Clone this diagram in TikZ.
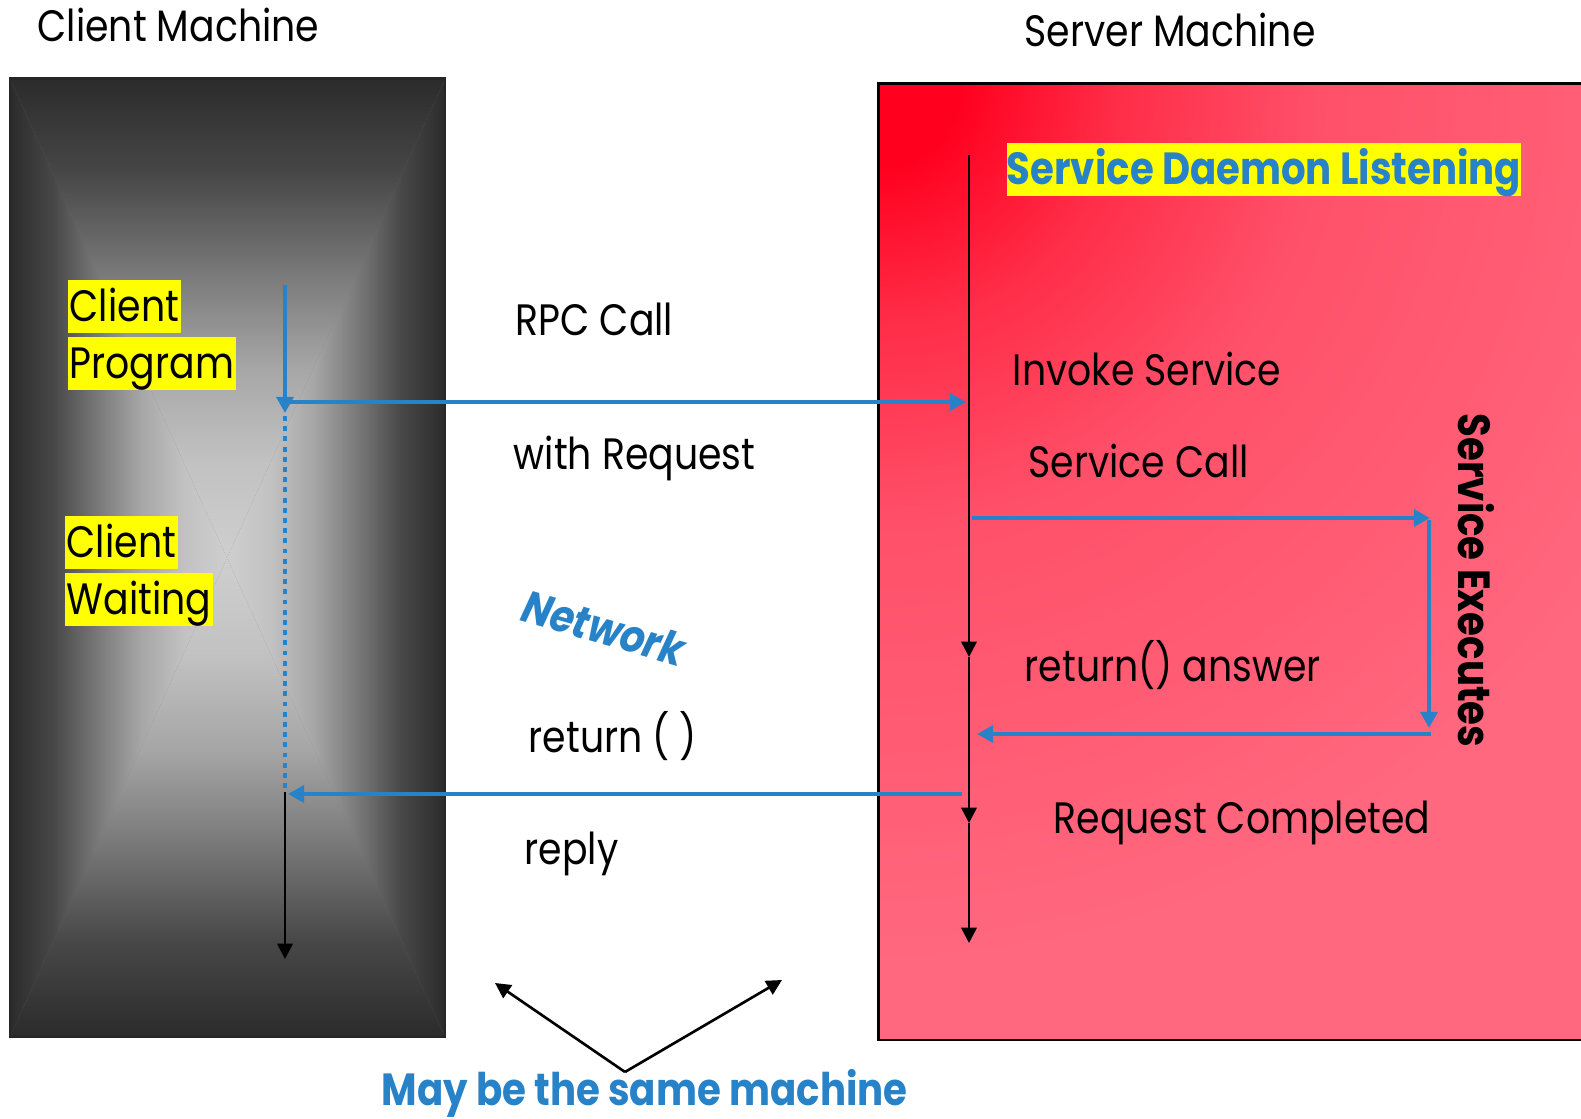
\documentclass[tikz,border=0pt]{standalone}
\usepackage{fontspec}
\setmainfont{Poppins}[FakeStretch=0.86]
\usetikzlibrary{arrows.meta, positioning, calc}

\definecolor{rpcblue}{RGB}{40,130,200}
\definecolor{hiyellow}{RGB}{255,255,0}
\definecolor{srvred}{RGB}{255,0,30}
\definecolor{srvmid}{RGB}{255,45,72}
\definecolor{srvlight}{RGB}{255,80,105}
\definecolor{srvpink}{RGB}{255,104,127}

% client box: dark rim to light middle, one quarter at a time
\pgfdeclarehorizontalshading{rimglow}{100bp}{%
  color(0bp)=(black!83); color(25bp)=(black!83); color(35bp)=(black!72);
  color(45bp)=(black!53); color(55bp)=(black!35); color(65bp)=(black!24);
  color(75bp)=(black!19); color(100bp)=(black!19)}
% red corner of the server box fading to pink
\pgfdeclareradialshading{srvglow}{\pgfpoint{0bp}{0bp}}{%
  color(0bp)=(srvred); color(2bp)=(srvred); color(6bp)=(srvmid);
  color(11bp)=(srvlight); color(22bp)=(srvpink); color(50bp)=(srvpink)}

\begin{document}
\begin{tikzpicture}[x=0.01cm, y=-0.01cm,
    lbl/.style={font=\fontsize{12.5}{15}\selectfont, inner sep=0pt},
    boldlbl/.style={lbl, font=\fontsize{12.8}{15}\selectfont\bfseries, text=rpcblue},
    hilite/.style={lbl, fill=hiyellow, inner xsep=0.6pt, inner ysep=0pt,
      text height=11.8pt, text depth=3.4pt},
    blueflow/.style={draw=rpcblue, line width=1.15pt, -{Triangle[length=4.6pt,width=4.8pt]}},
    timeline/.style={draw=black, line width=0.75pt, -{Triangle[length=4.4pt,width=4.4pt]}},
    tip/.style={draw=black, line width=0.75pt, -{Triangle[length=4.4pt,width=4.4pt]}}]

  \useasboundingbox (0,0) rectangle (1581,1119);
  \clip (0,0) rectangle (1581,1119);

  % the two machines
  \coordinate (cmid) at (227,558);
  \fill[black!55] (10,79) rectangle (445,1037);
  \shade[shading=rimglow] (10,79) -- (10,1037) -- (cmid) -- cycle;
  \shade[shading=rimglow, shading angle=180] (445,79) -- (445,1037) -- (cmid) -- cycle;
  \shade[shading=rimglow, shading angle=-90] (10,79) -- (445,79) -- (cmid) -- cycle;
  \shade[shading=rimglow, shading angle=90] (10,1037) -- (445,1037) -- (cmid) -- cycle;
  \draw[black!85, line width=0.85pt] (10,79) rectangle (445,1037);

  \begin{scope}
    \clip (878,84) rectangle (1640,1040);
    \fill[srvpink] (878,84) rectangle (1640,1040);
    \shade[shading=srvglow] (878,84) circle (1000);
  \end{scope}
  \draw[black, line width=0.85pt] (878,84) rectangle (1640,1040);

  \node[lbl, anchor=base west] (cm) at (37,42) {Client Machine};
  \node[lbl, anchor=base west] (sm) at (1024,47) {Server Machine};

  % client side
  \node[hilite, anchor=north west] (cprog1) at (67,279) {Client};
  \node[hilite, anchor=north west] (cprog2) at (67,336) {Program};
  \node[hilite, anchor=north west] (cwait1) at (64,515) {Client};
  \node[hilite, anchor=north west] (cwait2) at (64,572) {Waiting};

  \coordinate (ctop) at (285,285);
  \coordinate (ccall) at (285,413);
  \coordinate (cout) at (285,402);
  \coordinate (cwaitA) at (285,416);
  \coordinate (cwaitB) at (285,790);
  \coordinate (cback) at (285,792);
  \coordinate (cend) at (285,959);
  \coordinate (cin) at (288,794);

  % server side
  \node[hilite, boldlbl, anchor=north west] (daemon) at (1006,142) {Service Daemon Listening};

  \coordinate (stop) at (969,155);
  \coordinate (sin) at (966,402);
  \coordinate (s1) at (969,657);
  \coordinate (s2) at (969,823);
  \coordinate (send) at (969,943);
  \coordinate (sout) at (962,794);
  \coordinate (callA) at (972,518);
  \coordinate (callB) at (1430,518);
  \coordinate (execA) at (1429,520);
  \coordinate (execB) at (1429,728);
  \coordinate (retA) at (1431,734);
  \coordinate (retB) at (977,734);

  \node[lbl, anchor=base west] (invoke) at (1012,386) {Invoke Service};
  \node[lbl, anchor=base west] (scall) at (1028,478) {Service Call};
  \node[lbl, anchor=base west] (sanswer) at (1024,682) {return() answer};
  \node[lbl, anchor=base west] (sdone) at (1053,834) {Request Completed};
  \node[lbl, font=\fontsize{12.8}{15}\selectfont\bfseries, anchor=base west, rotate=-90] (sexec) at (1458,413) {Service Executes};

  % the network between
  \node[lbl, anchor=base west] (rpc) at (515,336) {RPC Call};
  \node[lbl, anchor=base west] (req) at (513,470) {with Request};
  \node[boldlbl, inner sep=0pt, font=\fontsize{12.8}{15}\selectfont\bfseries\itshape, rotate=-16] (net) at (604,628) {Network};
  \node[lbl, anchor=base west] (ret) at (528,753) {return ( )};
  \node[lbl, anchor=base west] (reply) at (524,865) {reply};

  \node[boldlbl, inner sep=0pt, anchor=base west] (same) at (381,1106) {May be the same machine};
  \coordinate (apex) at (625,1072);
  \coordinate (leftend) at (495,983);
  \coordinate (rightend) at (782,980);

  % flows
  \draw[blueflow] (ctop) -- (ccall);
  \draw[blueflow] (cout) -- (sin);
  \draw[rpcblue, line width=1.15pt, dash pattern=on 1.4pt off 1.5pt] (cwaitA) -- (cwaitB);
  \draw[timeline] (cback) -- (cend);
  \draw[blueflow] (sout) -- (cin);

  \draw[timeline] (stop) -- (s1);
  \draw[timeline] (s1) -- (s2);
  \draw[timeline] (s2) -- (send);
  \draw[blueflow] (callA) -- (callB);
  \draw[blueflow] (execA) -- (execB);
  \draw[blueflow] (retA) -- (retB);

  \draw[tip] (apex) -- (leftend);
  \draw[tip] (apex) -- (rightend);
\end{tikzpicture}
\end{document}
